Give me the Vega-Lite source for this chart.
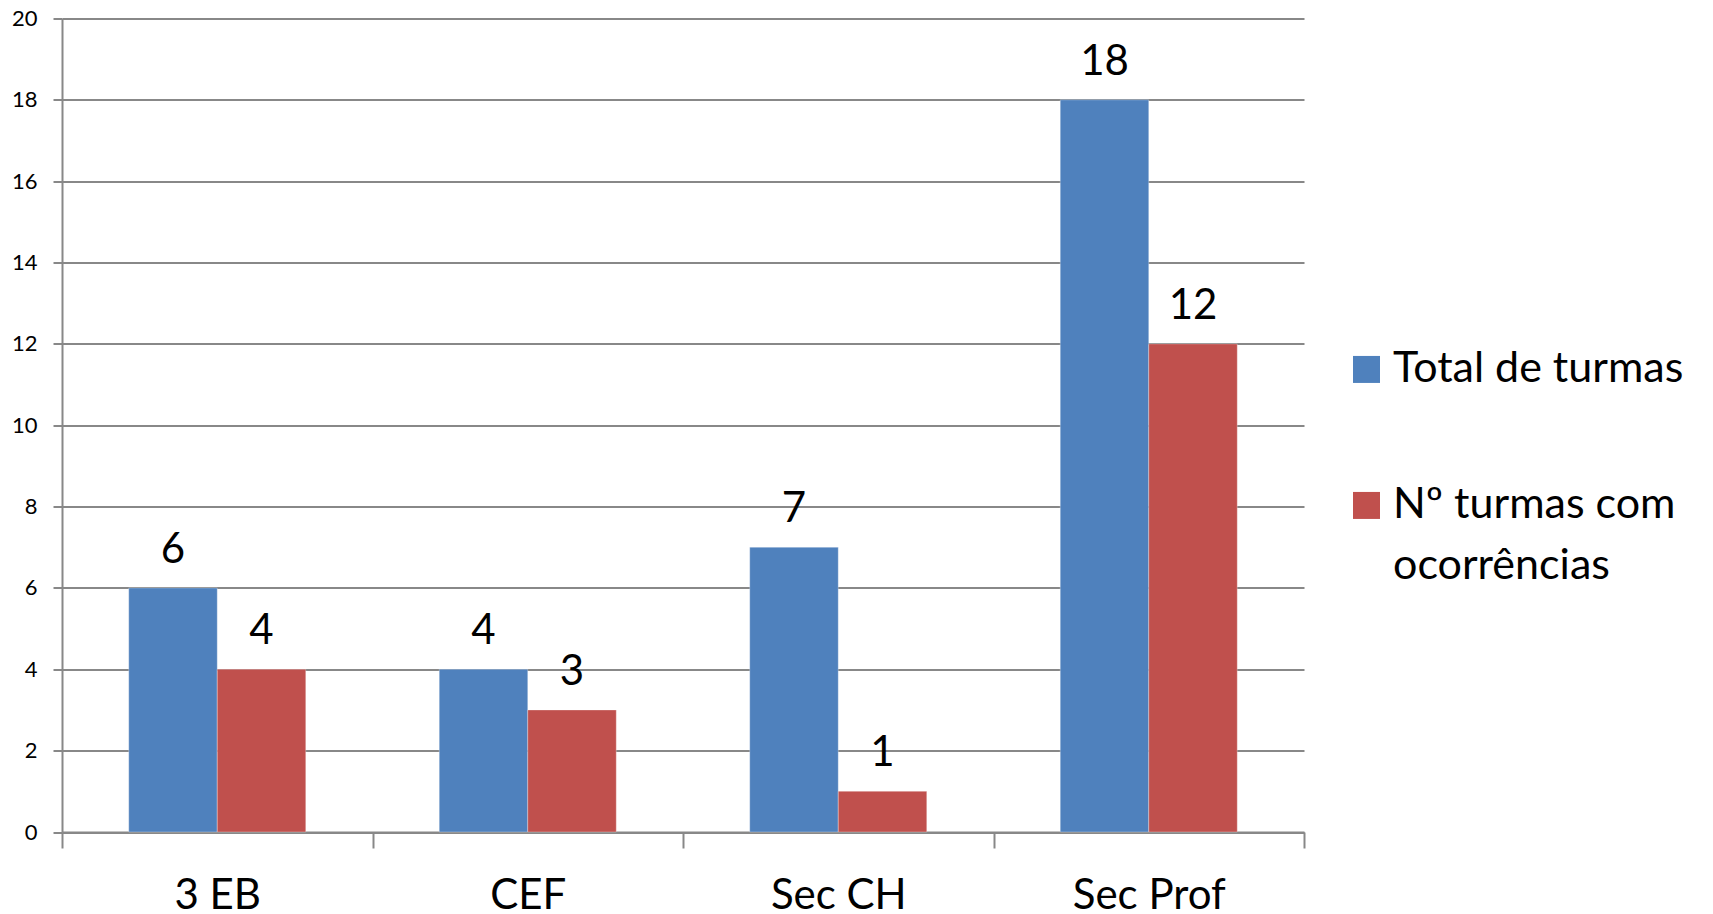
{
  "$schema": "https://vega.github.io/schema/vega-lite/v6.json",
  "width": 1242,
  "height": 813.5,
  "autosize": {"type": "none"},
  "padding": {"left": 62, "top": 18.5, "right": 409, "bottom": 82},
  "background": "white",
  "data": {"values": [
    {"cat": "3 EB", "serie": "Total de turmas", "valor": 6},
    {"cat": "3 EB", "serie": "Nº turmas com ocorrências", "valor": 4},
    {"cat": "CEF", "serie": "Total de turmas", "valor": 4},
    {"cat": "CEF", "serie": "Nº turmas com ocorrências", "valor": 3},
    {"cat": "Sec CH", "serie": "Total de turmas", "valor": 7},
    {"cat": "Sec CH", "serie": "Nº turmas com ocorrências", "valor": 1},
    {"cat": "Sec Prof", "serie": "Total de turmas", "valor": 18},
    {"cat": "Sec Prof", "serie": "Nº turmas com ocorrências", "valor": 12}
  ]},
  "encoding": {
    "x": {
      "field": "cat", "type": "nominal",
      "sort": ["3 EB", "CEF", "Sec CH", "Sec Prof"],
      "scale": {"paddingInner": 0, "paddingOuter": 0},
      "axis": {
        "title": null, "labelAngle": 0, "tickBand": "extent", "tickSize": 16,
        "tickColor": "#888888", "domainColor": "#888888", "tickWidth": 2, "domainWidth": 2,
        "labelFont": "Lato", "labelFontSize": 42, "labelColor": "black",
        "labelPadding": 60, "labelBaseline": "alphabetic", "grid": false
      }
    },
    "xOffset": {
      "field": "serie", "type": "nominal",
      "sort": ["Total de turmas", "Nº turmas com ocorrências"],
      "scale": {"paddingInner": 0, "paddingOuter": 0.754}
    },
    "y": {
      "field": "valor", "type": "quantitative",
      "scale": {"domain": [0, 20], "nice": false},
      "axis": {
        "title": null, "values": [0, 2, 4, 6, 8, 10, 12, 14, 16, 18, 20],
        "tickSize": 9, "labelPadding": 16, "labelFont": "Lato", "labelFontSize": 22,
        "labelColor": "black", "gridColor": "#888888", "gridWidth": 2,
        "domainColor": "#888888", "domainWidth": 2, "tickColor": "#888888", "tickWidth": 2
      }
    }
  },
  "layer": [
    {
      "mark": {"type": "bar", "stroke": "white", "strokeWidth": 0.6, "strokeOpacity": 0.5},
      "encoding": {
        "color": {
          "field": "serie", "type": "nominal",
          "scale": {"domain": ["Total de turmas", "Nº turmas com ocorrências"], "range": ["#4F81BD", "#C0504D"]},
          "legend": {
            "title": null, "orient": "none", "legendX": 1283, "legendY": 342,
            "symbolType": "M-1,-1.93H1V0.07H-1Z", "symbolSize": 729, "symbolStrokeWidth": 0,
            "symbolOpacity": 1,
            "labelFont": "Lato", "labelFontSize": 43, "labelColor": "black",
            "labelBaseline": "alphabetic", "labelOffset": 5, "rowPadding": 92, "labelLimit": 0,
            "padding": 0,
            "labelExpr": "datum.label == 'Nº turmas com ocorrências' ? ['Nº turmas com', 'ocorrências'] : datum.label"
          }
        }
      }
    },
    {
      "mark": {"type": "text", "dy": -25, "baseline": "alphabetic", "fontSize": 42, "font": "Lato", "color": "black"},
      "encoding": {"text": {"field": "valor", "type": "quantitative"}}
    }
  ],
  "config": {
    "style": {"guide-label": {"lineHeight": 61}},
    "view": {"stroke": null}
  }
}
